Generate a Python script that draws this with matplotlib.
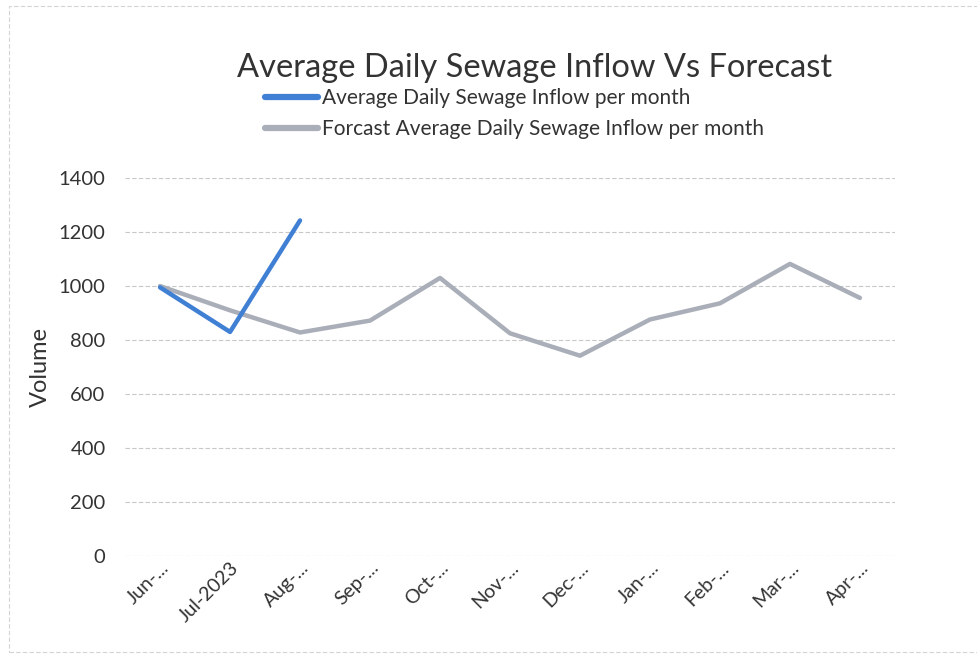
import matplotlib
matplotlib.use("Agg")
import matplotlib.pyplot as plt
from matplotlib.patches import Rectangle

# Data
months = ["Jun-...", "Jul-2023", "Aug-...", "Sep-...", "Oct-...", "Nov-...",
          "Dec-...", "Jan-...", "Feb-...", "Mar-...", "Apr-..."]
actual = [995, 830, 1243]
forecast = [1000, 910, 828, 872, 1030, 825, 742, 876, 936, 1082, 956]
y_ticks = [0, 200, 400, 600, 800, 1000, 1200, 1400]

plt.rcParams["font.family"] = ["Lato", "DejaVu Sans"]

fig = plt.figure(figsize=(9.77, 6.57), dpi=100)
ax = fig.add_axes([0.128, 0.1537, 0.788, 0.5753])

x_all = list(range(len(months)))
ax.plot(x_all[:len(actual)], actual, color="#3f7fd4", lw=3.2,
        solid_capstyle="round", label="Average Daily Sewage Inflow per month", zorder=3)
ax.plot(x_all, forecast, color="#a9aeb8", lw=3.2,
        solid_capstyle="round", label="Forcast Average Daily Sewage Inflow per month", zorder=2)

ax.set_xlim(-0.5, len(months) - 0.5)
ax.set_ylim(0, 1400)
ax.set_yticks(y_ticks)
ax.set_yticklabels([str(v) for v in y_ticks], fontsize=14.5, color="#333333")
ax.set_xticks(x_all)
ax.set_xticklabels(months, rotation=45, ha="right", rotation_mode="anchor",
                   fontsize=14, color="#333333")
ax.tick_params(axis="both", length=0)
ax.tick_params(axis="y", pad=14)
ax.tick_params(axis="x", pad=2)

ax.grid(axis="y", color="#c8c8c8", lw=0.8, linestyle=(0, (4, 2)))
ax.set_axisbelow(True)
for s in ax.spines.values():
    s.set_visible(False)

ax.set_ylabel("Volume", fontsize=17, color="#333333", labelpad=5.5)

fig.text(0.547, 0.896, "Average Daily Sewage Inflow Vs Forecast",
         ha="center", va="center", fontsize=23.5, color="#333333")

leg = fig.legend(loc="upper left", bbox_to_anchor=(0.263, 0.878), frameon=False,
                 fontsize=15, handlelength=2.55, handletextpad=0.15,
                 labelspacing=0.5, borderaxespad=0)
for t in leg.get_texts():
    t.set_color("#333333")
for h in leg.get_lines():
    h.set_linewidth(4.5)

# faint border of the scanned chart area
fig.patches.append(Rectangle((0.009, 0.008), 1.2, 0.983, transform=fig.transFigure,
                             fill=False, edgecolor="#d4d4d4", lw=0.8,
                             linestyle=(0, (4, 2))))

fig.savefig("out.png", dpi=100, facecolor="white")
